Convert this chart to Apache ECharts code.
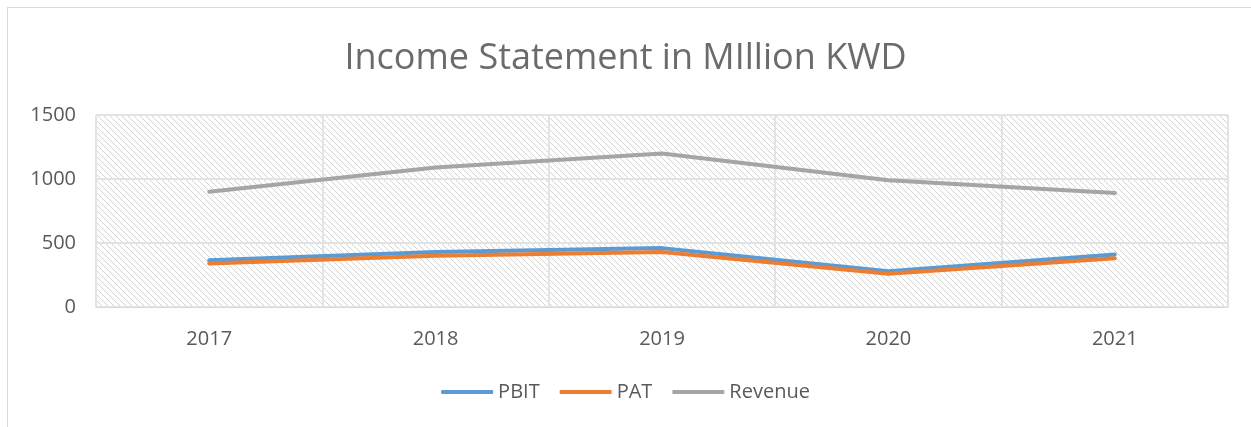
<!DOCTYPE html>
<html><head><meta charset="utf-8">
<script src="https://cdn.jsdelivr.net/npm/echarts@6/dist/echarts.min.js"></script>
<style>
html,body{margin:0;padding:0;background:#fff;}
#c{position:absolute;left:0;top:0;width:1251px;height:427px;}
#frame{position:absolute;left:7px;top:7px;width:1260px;height:440px;border:1px solid #d9d9d9;box-sizing:border-box;pointer-events:none;}
</style></head>
<body>
<div id="c"></div><div id="frame"></div>
<script>
const categories = ['2017','2018','2019','2020','2021'];
const pbit = [365, 430, 460, 280, 410];
const pat = [340, 400, 430, 260, 380];
const revenue = [900, 1090, 1200, 990, 890];
const yTicks = [0, 500, 1000, 1500];

function hatch(){
  const cv = document.createElement('canvas');
  cv.width = 6; cv.height = 6;
  const ctx = cv.getContext('2d');
  ctx.fillStyle = '#ffffff'; ctx.fillRect(0,0,6,6);
  ctx.strokeStyle = '#d4d4d4'; ctx.lineWidth = 1;
  ctx.beginPath();
  ctx.moveTo(-1,-1); ctx.lineTo(7,7);
  ctx.moveTo(-4,2); ctx.lineTo(4,10);
  ctx.moveTo(2,-4); ctx.lineTo(10,4);
  ctx.stroke();
  return cv;
}

const chart = echarts.init(document.getElementById('c'), null, {renderer:'canvas'});
const font = '"Open Sans", "Liberation Sans", sans-serif';
const mk = (name, data, color) => ({
  name, type:'line', data, symbol:'none', smooth:false,
  lineStyle:{color, width:4, cap:'round', join:'round'}, itemStyle:{color}
});
chart.setOption({
  animation:false,
  title:{text:'Income Statement in MIllion KWD', left:'center', top:36,
    textStyle:{fontFamily:font, fontSize:36, fontWeight:'normal', color:'#6b6b6b'}},
  grid:{left:96, right:23, top:115, bottom:120, show:true, borderWidth:1, borderColor:'#d9d9d9',
    backgroundColor:{image:hatch(), repeat:'repeat'}},
  legend:{bottom:20, left:'center', itemWidth:52, itemHeight:4, itemGap:20, icon:'roundRect',
    textStyle:{fontFamily:font, fontSize:20, color:'#595959'},
    data:['PBIT','PAT','Revenue']},
  xAxis:{type:'category', data:categories, boundaryGap:true,
    axisLine:{show:true, lineStyle:{color:'#d9d9d9'}}, axisTick:{show:false},
    splitLine:{show:true, interval:0, lineStyle:{color:'#e3e3e3', width:2}},
    axisLabel:{fontFamily:font, fontSize:20, color:'#595959', margin:22}},
  yAxis:{type:'value', min:yTicks[0], max:yTicks[yTicks.length-1], interval:500,
    axisLine:{show:false}, axisTick:{show:false},
    splitLine:{lineStyle:{color:'#e3e3e3', width:2}},
    axisLabel:{fontFamily:font, fontSize:20, color:'#595959', margin:20, formatter:v=>String(v)}},
  series:[mk('PBIT', pbit, '#5B9BD5'), mk('PAT', pat, '#ED7D31'), mk('Revenue', revenue, '#A5A5A5')]
});
</script>
</body></html>
